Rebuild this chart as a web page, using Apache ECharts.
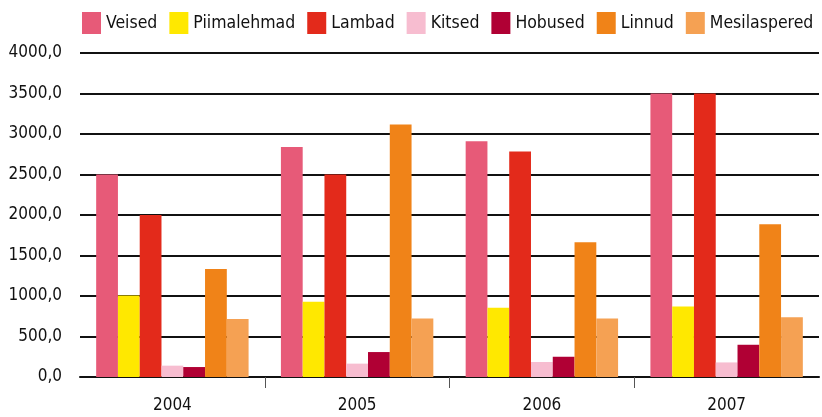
<!DOCTYPE html>
<html>
<head>
<meta charset="utf-8">
<script src="https://cdn.jsdelivr.net/npm/echarts@6/dist/echarts.min.js"></script>
<style>
  html, body { margin: 0; padding: 0; background: #fff; }
  #chart { width: 822px; height: 417px; }
</style>
</head>
<body>
<div id="chart"></div>
<script>
  var years = ['2004', '2005', '2006', '2007'];
  var veised = [2500, 2840, 2910, 3500];
  var piimalehmad = [1005, 928, 855, 870];
  var lambad = [2000, 2500, 2785, 3500];
  var kitsed = [140, 165, 185, 180];
  var hobused = [123, 308, 250, 398];
  var linnud = [1334, 3118, 1663, 1885];
  var mesilaspered = [715, 722, 722, 739];

  var font = '"DejaVu Sans Condensed", "DejaVu Sans", sans-serif';

  function bar(name, data) {
    return {
      name: name,
      type: 'bar',
      data: data,
      barGap: 0,
      barCategoryGap: '17.5%'
    };
  }

  var myChart = echarts.init(document.getElementById('chart'));
  var option = {
    animation: false,
    textStyle: { fontFamily: font },
    color: ['#e75a78', '#ffe800', '#e32a1b', '#f7bdd0', '#b00034', '#f08318', '#f5a153'],
    legend: {
      left: 77,
      top: 7,
      itemWidth: 19,
      itemHeight: 22,
      itemGap: 12,
      icon: 'rect',
      textStyle: { fontFamily: font, fontSize: 17.5, color: '#111' }
    },
    grid: {
      left: 80,
      right: 3,
      top: 53,
      bottom: 40
    },
    xAxis: [
      {
        type: 'category',
        data: years,
        axisLine: { lineStyle: { color: '#111', width: 2 } },
        axisTick: { show: false },
        axisLabel: { fontFamily: font, fontSize: 17, color: '#111', margin: 20 }
      },
      {
        // only the ticks between the years
        type: 'value',
        min: 0,
        max: 4,
        position: 'bottom',
        axisLine: { show: false },
        splitLine: { show: false },
        axisLabel: { show: false },
        axisTick: { show: true, length: 11, customValues: [1, 2, 3], lineStyle: { color: '#555', width: 1 } }
      }
    ],
    yAxis: {
      type: 'value',
      min: 0,
      max: 4000,
      interval: 500,
      axisLine: { show: false },
      axisTick: { show: false },
      splitLine: { lineStyle: { color: '#111', width: 2 } },
      axisLabel: {
        fontFamily: font,
        fontSize: 17,
        color: '#111',
        margin: 18,
        formatter: function (v) { return v.toFixed(1).replace('.', ','); }
      }
    },
    series: [
      bar('Veised', veised),
      bar('Piimalehmad', piimalehmad),
      bar('Lambad', lambad),
      bar('Kitsed', kitsed),
      bar('Hobused', hobused),
      bar('Linnud', linnud),
      bar('Mesilaspered', mesilaspered)
    ]
  };
  myChart.setOption(option);
</script>
</body>
</html>
